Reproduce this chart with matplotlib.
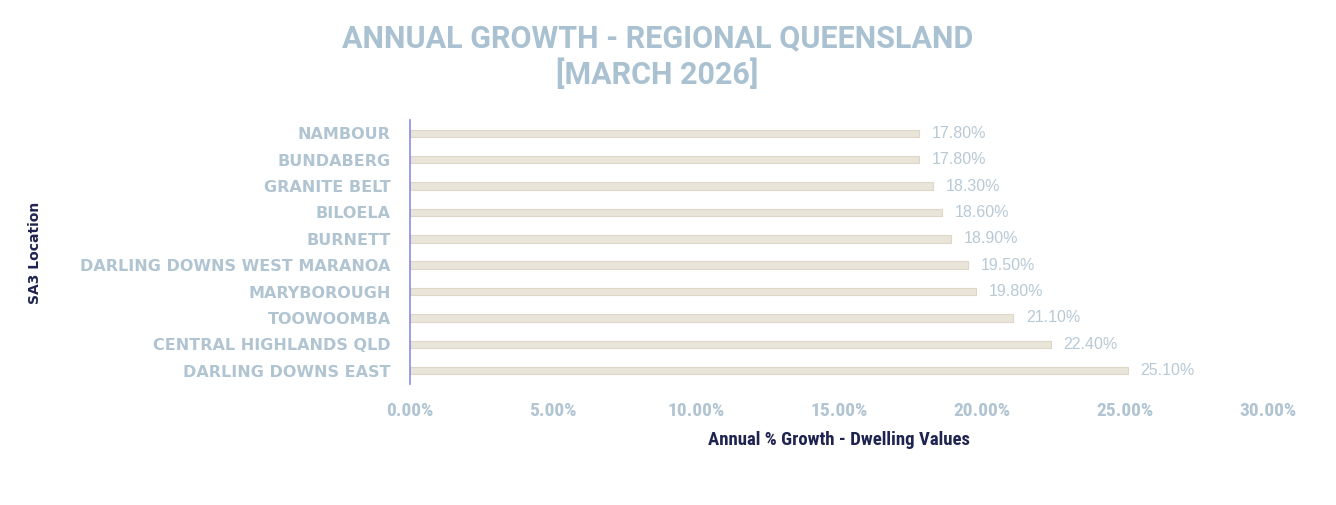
import matplotlib.pyplot as plt
from matplotlib.ticker import FuncFormatter

# Data (top to bottom as drawn)
locations = ['NAMBOUR', 'BUNDABERG', 'GRANITE BELT', 'BILOELA', 'BURNETT',
             'DARLING DOWNS WEST MARANOA', 'MARYBOROUGH', 'TOOWOOMBA',
             'CENTRAL HIGHLANDS QLD', 'DARLING DOWNS EAST']
growth = [17.8, 17.8, 18.3, 18.6, 18.9, 19.5, 19.8, 21.1, 22.4, 25.1]
x_ticks = [0, 5, 10, 15, 20, 25, 30]

narrow = ['Roboto Condensed', 'Roboto', 'DejaVu Sans']
light = '#b0c4d2'
navy = '#1f2350'

fig = plt.figure(figsize=(13.36, 5.05), dpi=100)
ax = fig.add_axes([0.307, 0.24, 0.642, 0.522])

ypos = list(range(len(locations)))[::-1]
ax.barh(ypos, growth, height=0.28, color='#e9e5d8', edgecolor='#dcd7c6', linewidth=0.8)

for y, v in zip(ypos, growth):
    ax.text(v + 0.45, y, f'{v:.2f}%', va='center', ha='left', fontsize=11.5,
            color='#b8c9d6', family='Liberation Sans')

ax.set_xlim(0, 30)
ax.set_ylim(-0.5, len(locations) - 0.5)
ax.set_xticks(x_ticks)
ax.xaxis.set_major_formatter(FuncFormatter(lambda v, p: f'{v:.2f}%'))
ax.set_yticks(ypos)
ax.set_yticklabels(locations)

for lab in ax.get_yticklabels():
    lab.set_fontsize(11.5)
    lab.set_fontweight('bold')
    lab.set_color(light)
for lab in ax.get_xticklabels():
    lab.set_fontsize(14)
    lab.set_fontweight('bold')
    lab.set_color(light)
    lab.set_family(narrow)

ax.tick_params(axis='both', length=0)
ax.tick_params(axis='x', pad=13)
ax.tick_params(axis='y', pad=14)

for s in ['top', 'right', 'bottom']:
    ax.spines[s].set_visible(False)
ax.spines['left'].set_color('#8c8ce0')
ax.spines['left'].set_linewidth(1.2)

ax.set_xlabel('Annual % Growth - Dwelling Values', fontsize=13.5, fontweight='bold',
              color=navy, family=narrow, labelpad=8)
fig.text(0.026, 0.5, 'SA3 Location', rotation=90, ha='center', va='center',
         fontsize=10, fontweight='bold', color=navy)

fig.text(0.492, 0.888, 'ANNUAL GROWTH - REGIONAL QUEENSLAND\n[MARCH 2026]',
         ha='center', va='center', fontsize=22, fontweight='bold',
         color='#a9c1d0', family='Roboto', linespacing=1.2)

fig.savefig('out.png', dpi=100)
